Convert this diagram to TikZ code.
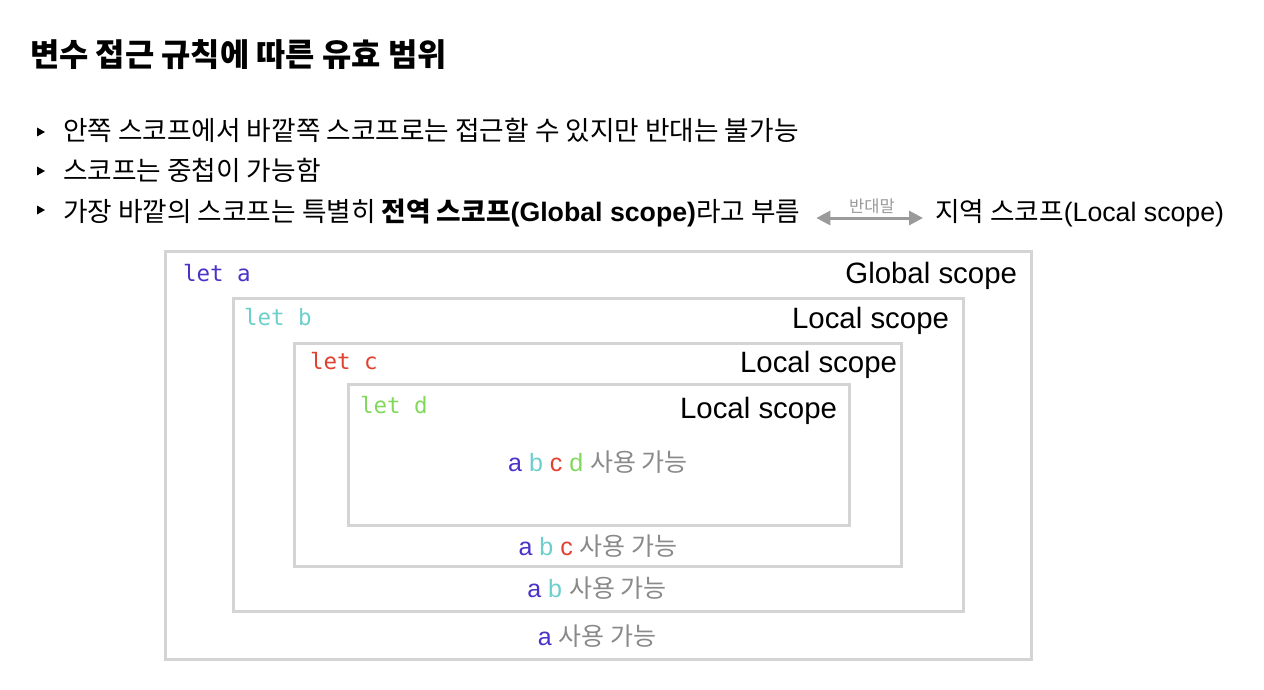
\documentclass[tikz,border=0pt]{standalone}
\usepackage{fontspec}
\setmainfont{Liberation Sans}
\setmonofont{DejaVu Sans Mono}
\newfontfamily\kr{Noto Sans CJK KR}
\usetikzlibrary{arrows.meta}
\definecolor{ca}{HTML}{4B32C8}
\definecolor{cb}{HTML}{6CCFCC}
\definecolor{cc}{HTML}{E2412F}
\definecolor{cd}{HTML}{82D85C}
\definecolor{frame}{HTML}{D4D4D4}
\definecolor{note}{HTML}{8A8A8A}
\definecolor{arrowgray}{HTML}{9A9A9A}
\tikzset{
  txt/.style={inner sep=0pt, outer sep=0pt, anchor=base west},
  body/.style={txt, font=\fontsize{26.7}{30}\selectfont},
  code/.style={txt, font=\ttfamily\fontsize{22.5}{26}\selectfont},
  scopelbl/.style={inner sep=0pt, outer sep=0pt, anchor=base east, font=\fontsize{29.4}{33}\selectfont},
  usage/.style={inner sep=0pt, outer sep=0pt, anchor=base, font=\fontsize{25}{28}\selectfont, text=note},
  scopebox/.style={draw=frame, line width=3pt},
  bul/.style={fill=black},
  arr/.style={draw=arrowgray, line width=3pt, {Triangle[length=14pt 0 0,width=14pt 0 0]}-{Triangle[length=14pt 0 0,width=14pt 0 0]}}
}
\begin{document}
\begin{tikzpicture}[x=1pt,y=-1pt]
\useasboundingbox (0,0) rectangle (1264,690);
\fill[white] (0,0) rectangle (1264,690);

% title
\node[txt, font=\kr\bfseries\fontsize{31.8}{36}\selectfont] (title) at (30,67) {변수 접근 규칙에 따른 유효 범위};

% bullets
\fill[bul] (37,127.5) -- (45,132) -- (37,136.5) -- cycle;
\fill[bul] (37,166.5) -- (45,171) -- (37,175.5) -- cycle;
\fill[bul] (37,205.5) -- (45,210) -- (37,214.5) -- cycle;
\node[body] (l1) at (63,141) {\kr 안쪽 스코프에서 바깥쪽 스코프로는 접근할 수 있지만 반대는 불가능};
\node[body] (l2) at (63,180) {\kr 스코프는 중첩이 가능함};
\node[body] (l3) at (63,221) {{\kr 가장 바깥의 스코프는 특별히 \textbf{전역 스코프}}\textbf{(Global scope)}{\kr 라고 부름}};
\node[body] (loc) at (935,221) {{\kr 지역 스코프}(Local scope)};
\draw[arr] ([xshift=16pt,yshift=3pt]l3.base east) -- coordinate (mid) ([xshift=-12pt,yshift=3pt]loc.base west);
\node[inner sep=0pt, anchor=base, font=\kr\fontsize{16.5}{19}\selectfont, text=arrowgray] (opp) at (872,212) {반대말};

% scope boxes
\draw[scopebox] (165,251) rectangle (1031,659);
\draw[scopebox] (233,298) rectangle (963,611);
\draw[scopebox] (294,343) rectangle (901,566);
\draw[scopebox] (348,384) rectangle (849,525);

% let declarations
\node[code, text=ca] (la) at (183,281) {let a};
\node[code, text=cb] (lb) at (244,325) {let b};
\node[code, text=cc] (lc) at (310,369) {let c};
\node[code, text=cd] (ld) at (360,413) {let d};

% scope labels
\node[scopelbl] (gs) at (1017,283) {Global scope};
\node[scopelbl] (ls1) at (949,328) {Local scope};
\node[scopelbl] (ls2) at (897,372) {Local scope};
\node[scopelbl] (ls3) at (837,418) {Local scope};

% usage notes
\node[usage] (u4) at (598,471) {\textcolor{ca}{a} \textcolor{cb}{b} \textcolor{cc}{c} \textcolor{cd}{d} {\kr 사용 가능}};
\node[usage] (u3) at (598,555) {\textcolor{ca}{a} \textcolor{cb}{b} \textcolor{cc}{c} {\kr 사용 가능}};
\node[usage] (u2) at (597,597) {\textcolor{ca}{a} \textcolor{cb}{b} {\kr 사용 가능}};
\node[usage] (u1) at (597,645) {\textcolor{ca}{a} {\kr 사용 가능}};
\end{tikzpicture}
\end{document}
